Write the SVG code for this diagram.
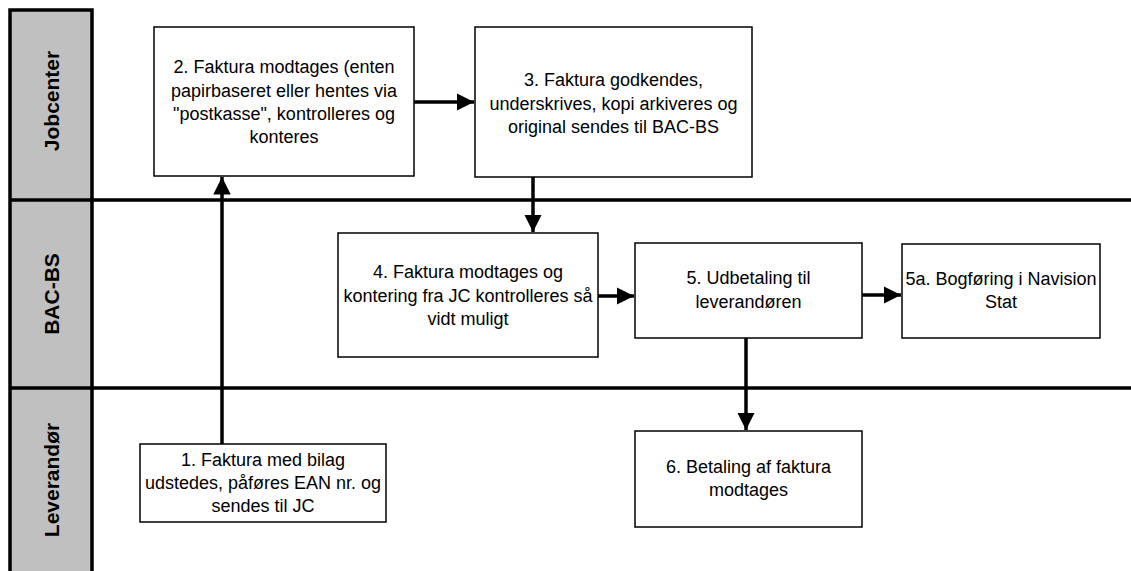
<svg xmlns="http://www.w3.org/2000/svg" width="1131" height="571" viewBox="0 0 1131 571">
<style>
.box{fill:#fff;stroke:#000;stroke-width:1.5}
.t{font-family:"Liberation Sans",Arial,sans-serif;font-size:18px;fill:#000;text-anchor:middle}
.h{font-family:"Liberation Sans",Arial,sans-serif;font-size:21px;font-weight:bold;fill:#000;text-anchor:middle}
.c{stroke:#000;stroke-width:3.5;fill:none}
.lane{stroke:#000;stroke-width:3.5}
</style>
<defs>
<marker id="ah" viewBox="0 0 10 10" refX="10" refY="5" markerWidth="5" markerHeight="5" markerUnits="strokeWidth" orient="auto">
<path d="M0,0 L10,5 L0,10 Z" fill="#000"/>
</marker>
</defs>
<rect width="1131" height="571" fill="#fff"/>
<g id="lanes">
<rect x="10" y="10" width="82" height="570" fill="#c0c0c0" stroke="#000" stroke-width="3.5"/>
<line class="lane" x1="10" y1="200" x2="1131" y2="200"/>
<line class="lane" x1="10" y1="388" x2="1131" y2="388"/>
<text class="h" transform="translate(59,101) rotate(-90)">Jobcenter</text>
<text class="h" transform="translate(59,294) rotate(-90)">BAC-BS</text>
<text class="h" transform="translate(59,480) rotate(-90)">Leverandør</text>
</g>
<g id="n2">
<rect class="box" x="154" y="27" width="260" height="149"/>
<text class="t" x="284" y="73">2. Faktura modtages (enten</text>
<text class="t" x="284" y="97">papirbaseret eller hentes via</text>
<text class="t" x="284" y="120">"postkasse", kontrolleres og</text>
<text class="t" x="284" y="143">konteres</text>
</g>
<g id="n3">
<rect class="box" x="475" y="27" width="277" height="150"/>
<text class="t" x="613.5" y="86">3. Faktura godkendes,</text>
<text class="t" x="613.5" y="110">underskrives, kopi arkiveres og</text>
<text class="t" x="613.5" y="133">original sendes til BAC-BS</text>
</g>
<g id="n4">
<rect class="box" x="338" y="233" width="260" height="124"/>
<text class="t" x="468" y="278">4. Faktura modtages og</text>
<text class="t" x="468" y="302">kontering fra JC kontrolleres så</text>
<text class="t" x="468" y="325">vidt muligt</text>
</g>
<g id="n5">
<rect class="box" x="635" y="243" width="227" height="95"/>
<text class="t" x="748.5" y="284">5. Udbetaling til</text>
<text class="t" x="748.5" y="308">leverandøren</text>
</g>
<g id="n5a">
<rect class="box" x="902" y="244" width="198" height="94"/>
<text class="t" x="1001" y="285">5a. Bogføring i Navision</text>
<text class="t" x="1001" y="308">Stat</text>
</g>
<g id="n1">
<rect class="box" x="140" y="444" width="246" height="78"/>
<text class="t" x="263" y="466">1. Faktura med bilag</text>
<text class="t" x="263" y="489">udstedes, påføres EAN nr. og</text>
<text class="t" x="263" y="512">sendes til JC</text>
</g>
<g id="n6">
<rect class="box" x="635" y="431" width="227" height="96"/>
<text class="t" x="748.5" y="473">6. Betaling af faktura</text>
<text class="t" x="748.5" y="496">modtages</text>
</g>
<g id="connectors">
<line class="c" x1="222" y1="444" x2="222" y2="177" marker-end="url(#ah)"/>
<line class="c" x1="414" y1="102" x2="474" y2="102" marker-end="url(#ah)"/>
<line class="c" x1="533" y1="177" x2="533" y2="232" marker-end="url(#ah)"/>
<line class="c" x1="598" y1="296" x2="634" y2="296" marker-end="url(#ah)"/>
<line class="c" x1="862" y1="295" x2="901" y2="295" marker-end="url(#ah)"/>
<line class="c" x1="746" y1="338" x2="746" y2="430" marker-end="url(#ah)"/>
</g>
</svg>
